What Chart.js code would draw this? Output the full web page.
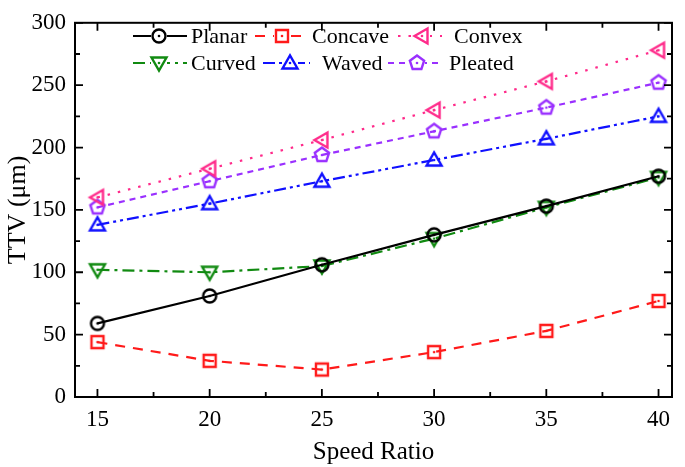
<!DOCTYPE html>
<html>
<head>
<meta charset="utf-8">
<script src="https://cdn.jsdelivr.net/npm/chart.js@4"></script>
<style>
  html, body { margin: 0; padding: 0; background: #fff; }
  #wrap { width: 685px; height: 467px; }
</style>
</head>
<body>
<div id="wrap"><canvas id="myChart" width="685" height="467"></canvas></div>
<script>
const speedRatio = [15, 20, 25, 30, 35, 40];
const yTicks = [0, 50, 100, 150, 200, 250, 300];

const planar   = [59, 81, 106, 130, 153, 177];
const concave  = [44, 29, 22, 36, 53, 77];
const convex   = [160, 183, 206, 230, 253, 278];
const curved   = [102, 100, 105, 127, 152, 176];
const waved    = [138, 155, 173, 190, 207, 225];
const pleated  = [152, 173, 194, 213, 232, 252];

const FONT = '"Liberation Serif", "Times New Roman", serif';

function makeMarker(shape, color) {
    let c = document.createElement('canvas');
    c.width = 22; c.height = 22;
    let g = c.getContext('2d');
    let m = 11;
    g.strokeStyle = color;
    g.fillStyle = color;
    g.lineWidth = 2.4;
    g.beginPath();
    if (shape === 'circle') {
        g.arc(m, m, 6.5, 0, Math.PI * 2);
    } else if (shape === 'square') {
        g.rect(m - 6, m - 6, 12, 12);
    } else if (shape === 'left') {
        g.moveTo(m - 7.5, m); g.lineTo(m + 5.5, m - 7.5); g.lineTo(m + 5.5, m + 7.5); g.closePath();
    } else if (shape === 'down') {
        g.moveTo(m - 7.5, m - 5.5); g.lineTo(m + 7.5, m - 5.5); g.lineTo(m, m + 7.5); g.closePath();
    } else if (shape === 'up') {
        g.moveTo(m - 7.5, m + 5.5); g.lineTo(m + 7.5, m + 5.5); g.lineTo(m, m - 7.5); g.closePath();
    } else if (shape === 'pentagon') {
        for (let k = 0; k < 5; k++) {
            let a = (-90 + k * 72) * Math.PI / 180;
            let px = m + 7.5 * Math.cos(a), py = m + 7.5 * Math.sin(a);
            if (k === 0) g.moveTo(px, py); else g.lineTo(px, py);
        }
        g.closePath();
    }
    g.stroke();
    g.beginPath();
    g.arc(m, m, 1.3, 0, Math.PI * 2);
    g.fill();
    return c;
}

const series = [
    { label: 'Planar',  data: planar,  color: '#000000', dash: [],              shape: 'circle' },
    { label: 'Concave', data: concave, color: '#ff1a1a', dash: [10, 8],         shape: 'square' },
    { label: 'Convex',  data: convex,  color: '#ff2a8a', dash: [2.5, 8],        shape: 'left' },
    { label: 'Curved',  data: curved,  color: '#118a11', dash: [12, 5, 3, 5],   shape: 'down' },
    { label: 'Waved',   data: waved,   color: '#1010ff', dash: [12, 4, 3, 4, 3, 4], shape: 'up' },
    { label: 'Pleated', data: pleated, color: '#9a30ff', dash: [6, 5],          shape: 'pentagon' }
];
series.forEach(s => s.marker = makeMarker(s.shape, s.color));

// legend entries: [series index, line start, line end, marker x, text x, y]
const legendLayout = [
    [0, 133, 187, 159, 191, 36],
    [1, 255, 308, 282, 312, 36],
    [2, 398, 442, 422, 454, 36],
    [3, 133, 187, 159, 191, 63],
    [4, 263, 310, 290, 322, 63],
    [5, 388, 440, 417, 449, 63]
];

const framePlugin = {
    id: 'frame',
    afterDraw(chart) {
        let c = chart.ctx;
        let a = chart.chartArea;
        let xs = chart.scales.x, ys = chart.scales.y;
        c.save();
        c.strokeStyle = '#000';
        c.lineWidth = 2;
        c.strokeRect(a.left, a.top, a.right - a.left, a.bottom - a.top);
        c.lineWidth = 1.8;
        c.beginPath();
        for (let v = 15; v <= 40; v += 2.5) {
            let px = xs.getPixelForValue(v);
            let len = (v % 5 === 0) ? 8 : 5;
            c.moveTo(px, a.bottom); c.lineTo(px, a.bottom - len);
            c.moveTo(px, a.top); c.lineTo(px, a.top + len);
        }
        for (let v = 0; v <= 300; v += 25) {
            let py = ys.getPixelForValue(v);
            let len = (v % 50 === 0) ? 8 : 5;
            c.moveTo(a.left, py); c.lineTo(a.left + len, py);
            c.moveTo(a.right, py); c.lineTo(a.right - len, py);
        }
        c.stroke();

        // legend
        c.font = '22px ' + FONT;
        c.textBaseline = 'middle';
        legendLayout.forEach(L => {
            let s = series[L[0]];
            c.strokeStyle = s.color;
            c.lineWidth = 2.2;
            c.setLineDash(s.dash);
            c.beginPath();
            c.moveTo(L[1], L[5]); c.lineTo(L[2], L[5]);
            c.stroke();
            c.setLineDash([]);
            c.fillStyle = '#fff';
            c.fillRect(L[3] - 8, L[5] - 8, 16, 16);
            c.drawImage(s.marker, L[3] - 11, L[5] - 11);
            c.fillStyle = '#000';
            c.fillText(s.label, L[4], L[5] + 1);
        });
        c.restore();
    }
};

let ctx = document.getElementById('myChart');
let chart = new Chart(ctx, {
    type: 'line',
    data: {
        datasets: series.map(s => ({
            label: s.label,
            data: speedRatio.map((x, i) => ({ x: x, y: s.data[i] })),
            borderColor: s.color,
            backgroundColor: s.color,
            borderWidth: 2.2,
            borderDash: s.dash,
            pointStyle: s.marker,
            pointRadius: 7,
            tension: 0,
            fill: false
        }))
    },
    options: {
        responsive: false,
        animation: false,
        layout: { padding: { top: 11, right: 13, left: 0, bottom: 0 } },
        plugins: {
            legend: { display: false },
            tooltip: { enabled: false }
        },
        scales: {
            x: {
                type: 'linear',
                min: 14,
                max: 40.6,
                afterBuildTicks(scale) { scale.ticks = speedRatio.map(v => ({ value: v })); },
                afterFit(scale) { scale.height = 70; },
                grid: { display: false, drawTicks: false },
                border: { display: false },
                ticks: { color: '#000', font: { family: FONT, size: 23 }, padding: 9, maxRotation: 0 },
                title: { display: true, text: 'Speed Ratio', color: '#000', font: { family: FONT, size: 25 }, padding: { top: 0, bottom: 0 } }
            },
            y: {
                min: 0,
                max: 300,
                afterBuildTicks(scale) { scale.ticks = yTicks.map(v => ({ value: v })); },
                afterFit(scale) { scale.width = 75; },
                grid: { display: false, drawTicks: false },
                border: { display: false },
                ticks: { color: '#000', font: { family: FONT, size: 23 }, padding: 9 },
                title: { display: true, text: 'TTV (μm)', color: '#000', font: { family: FONT, size: 26 }, padding: { top: 3, bottom: 0 } }
            }
        }
    },
    plugins: [framePlugin]
});
</script>
</body>
</html>
